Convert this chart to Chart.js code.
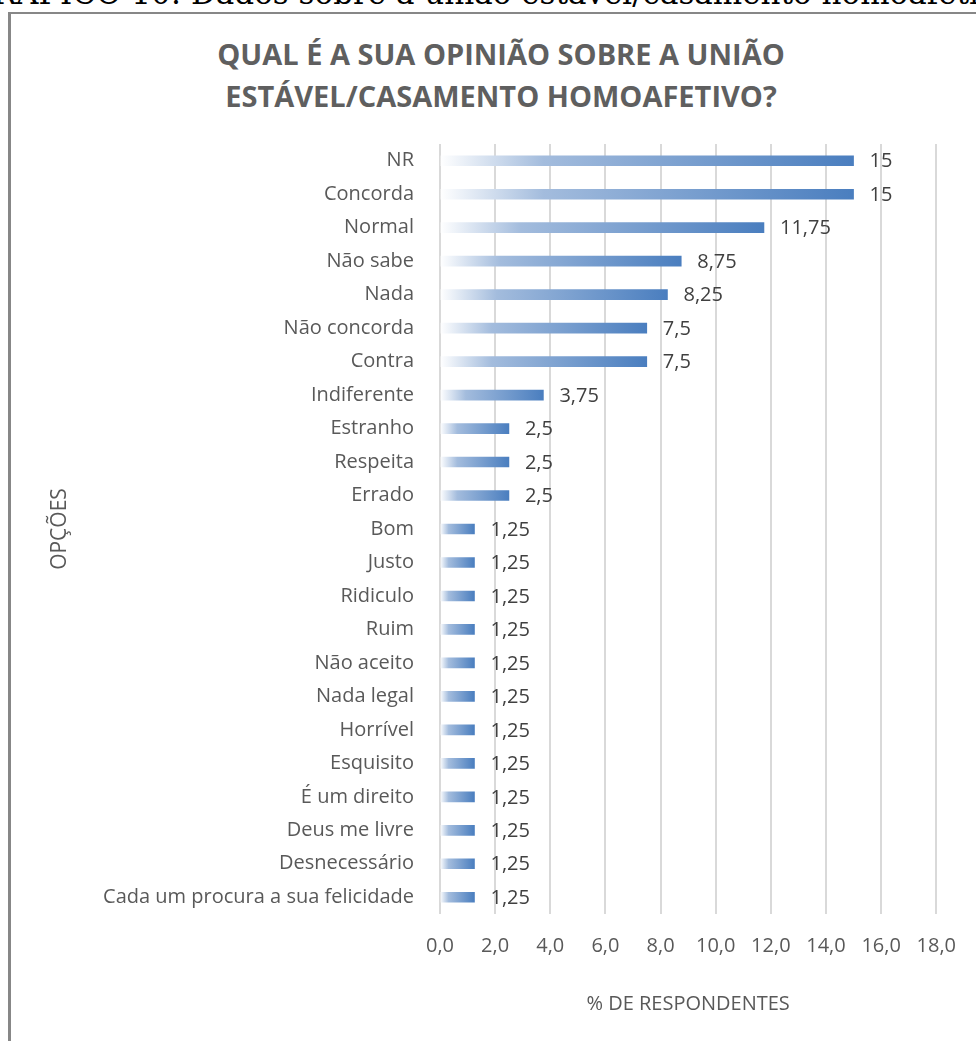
<!DOCTYPE html>
<html>
<head>
<meta charset="utf-8">
<script src="https://cdn.jsdelivr.net/npm/chart.js@4"></script>
<style>
  html, body {
    margin: 0;
    padding: 0;
    background: #ffffff;
    overflow: hidden;
  }
  #caption {
    position: absolute;
    left: -32px;
    top: -22px;
    font-family: "DejaVu Serif", serif;
    font-size: 31px;
    line-height: 1;
    color: #000000;
    white-space: nowrap;
  }
  #frame {
    position: absolute;
    left: 8px;
    top: 12px;
    width: 1100px;
    height: 1100px;
    border-left: 3px solid #878787;
    border-top: 2px solid #878787;
  }
  #title {
    position: absolute;
    left: 1px;
    width: 1000px;
    top: 33px;
    text-align: center;
    font-family: "Open Sans", sans-serif;
    font-weight: bold;
    font-size: 29px;
    line-height: 42px;
    color: #5f5f5f;
  }
  #wrap {
    position: absolute;
    left: 0;
    top: 0;
    width: 976px;
    height: 1041px;
  }
</style>
</head>
<body>
<div id="caption">GRÁFICO 10: Dados sobre a união estável/casamento homoafetivo</div>
<div id="frame"></div>
<div id="title">QUAL É A SUA OPINIÃO SOBRE A UNIÃO<br>ESTÁVEL/CASAMENTO HOMOAFETIVO?</div>
<div id="wrap"><canvas id="chart"></canvas></div>
<script>
const opcoes = [
    "NR", "Concorda", "Normal", "Não sabe", "Nada",
    "Não concorda", "Contra", "Indiferente", "Estranho",
    "Respeita", "Errado", "Bom", "Justo", "Ridiculo", "Ruim",
    "Não aceito", "Nada legal", "Horrível", "Esquisito",
    "É um direito", "Deus me livre", "Desnecessário",
    "Cada um procura a sua felicidade"
];

const respondentes = [
    15, 15, 11.75, 8.75, 8.25,
    7.5, 7.5, 3.75, 2.5,
    2.5, 2.5, 1.25, 1.25, 1.25, 1.25,
    1.25, 1.25, 1.25, 1.25,
    1.25, 1.25, 1.25,
    1.25
];

const xTicks = [0, 2, 4, 6, 8, 10, 12, 14, 16, 18];

const textFont = "'Open Sans', sans-serif";


function comma(v) {
    return String(v).replace(".", ",");
}


// white -> blue gradient along each bar
function barFill(c) {

    const chart = c.chart;

    if (!chart.chartArea || typeof c.raw !== "number") {
        return "#4f81bd";
    }

    const xs = chart.scales.x;
    const x0 = xs.getPixelForValue(0);
    const x1 = xs.getPixelForValue(c.raw);

    const g = chart.ctx.createLinearGradient(x0, 0, x1, 0);
    g.addColorStop(0, "#ffffff");
    g.addColorStop(0.25, "#a3bcdd");
    g.addColorStop(1, "#4a7ebf");

    return g;
}


const valueLabels = {

    id: "valueLabels",

    afterDatasetsDraw(chart) {

        const ctx = chart.ctx;
        const meta = chart.getDatasetMeta(0);

        ctx.save();
        ctx.font = "20px " + textFont;
        ctx.fillStyle = "#404040";
        ctx.textAlign = "left";
        ctx.textBaseline = "middle";

        meta.data.forEach((bar, i) => {
            ctx.fillText(
                comma(respondentes[i]),
                bar.x + 16,
                bar.y + 1
            );
        });

        ctx.restore();
    }
};


let chart = new Chart(document.getElementById("chart"), {

    type: "bar",

    data: {
        labels: opcoes,
        datasets: [{
            data: respondentes,
            backgroundColor: barFill,
            barThickness: 10,
            borderWidth: 0
        }]
    },

    plugins: [valueLabels],

    options: {

        indexAxis: "y",
        responsive: true,
        maintainAspectRatio: false,
        animation: false,

        layout: {
            padding: {
                left: 43,
                right: 37,
                top: 144,
                bottom: 21
            }
        },

        plugins: {
            legend: { display: false },
            tooltip: { enabled: false }
        },

        scales: {

            x: {
                min: 0,
                max: 18,
                afterBuildTicks: (s) => {
                    s.ticks = xTicks.map(v => ({ value: v }));
                },
                ticks: {
                    padding: 20,
                    color: "#595959",
                    font: { family: textFont, size: 20 },
                    callback: (v) => v.toFixed(1).replace(".", ",")
                },
                grid: {
                    color: "#d9d9d9",
                    lineWidth: 2,
                    drawTicks: false
                },
                border: { display: false },
                title: {
                    display: true,
                    text: "% DE RESPONDENTES",
                    color: "#595959",
                    font: { family: textFont, size: 20 },
                    padding: { top: 14, bottom: 4 }
                }
            },

            y: {
                ticks: {
                    padding: 18,
                    color: "#595959",
                    font: { family: textFont, size: 20 }
                },
                grid: { display: false },
                border: { display: false },
                afterFit: (s) => {
                    s.width = 397;
                },
                title: {
                    display: true,
                    text: "OPÇÕES",
                    color: "#595959",
                    font: { family: textFont, size: 21 },
                    padding: { top: 4, bottom: 4 }
                }
            }
        }
    }
});
</script>
</body>
</html>
